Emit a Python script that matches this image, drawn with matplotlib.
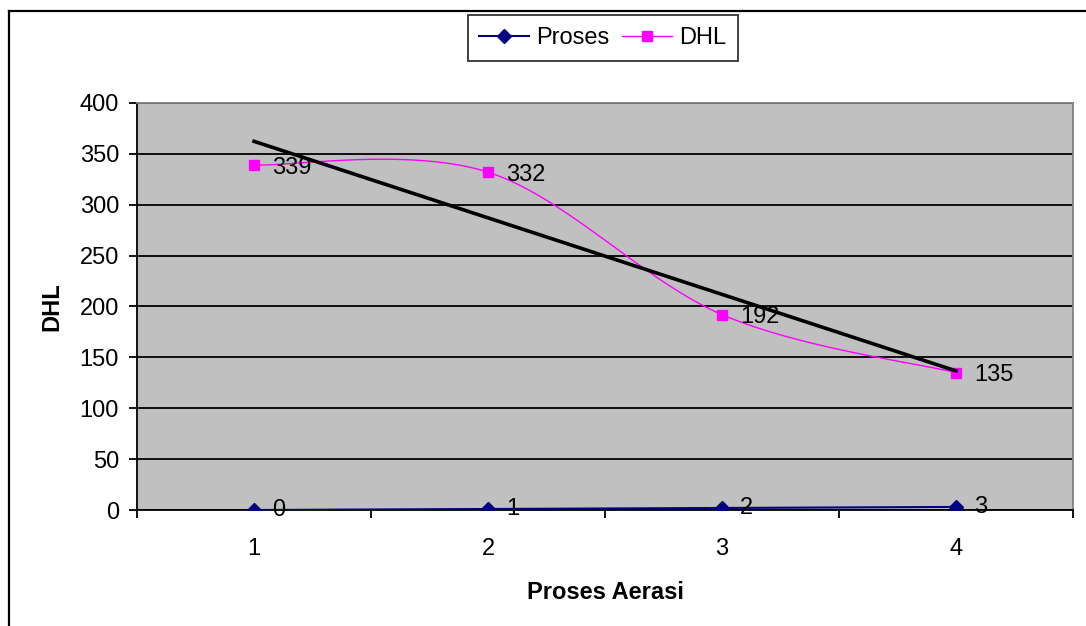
import numpy as np
import matplotlib
matplotlib.use("Agg")
import matplotlib.pyplot as plt
from matplotlib.lines import Line2D

# data
proses_aerasi = [1, 2, 3, 4]
proses = [0, 1, 2, 3]
dhl = [339, 332, 192, 135]
y_ticks = [0, 50, 100, 150, 200, 250, 300, 350, 400]


def smooth(xs, ys, n=40):
    # Excel style smoothed line (Catmull-Rom through the points)
    xs = np.asarray(xs, float)
    ys = np.asarray(ys, float)
    px = np.concatenate([[xs[0]], xs, [xs[-1]]])
    py = np.concatenate([[ys[0]], ys, [ys[-1]]])
    ox, oy = [], []
    for i in range(1, len(px) - 2):
        p0, p1, p2, p3 = [np.array([px[k], py[k]]) for k in (i - 1, i, i + 1, i + 2)]
        c1 = p1 + (p2 - p0) / 6
        c2 = p2 - (p3 - p1) / 6
        t = np.linspace(0, 1, n)[:, None]
        b = (1 - t) ** 3 * p1 + 3 * (1 - t) ** 2 * t * c1 + 3 * (1 - t) * t ** 2 * c2 + t ** 3 * p2
        ox.extend(b[:, 0])
        oy.extend(b[:, 1])
    return ox, oy


plt.rcParams['font.family'] = ['Liberation Sans', 'DejaVu Sans']
fs = 17

fig = plt.figure(figsize=(10.86, 6.26), dpi=100)
ax = fig.add_axes([0.1262, 0.1853, 0.8618, 0.6502])
ax.set_facecolor('#C0C0C0')

sx, sy = smooth(proses_aerasi, proses)
ax.plot(sx, sy, color='#000080', lw=1.5, zorder=3)
ax.plot(proses_aerasi, proses, ls='none', marker='D', ms=7.5, color='#000080', zorder=4)
sx, sy = smooth(proses_aerasi, dhl)
ax.plot(sx, sy, color='#FF00FF', lw=1, zorder=3)
ax.plot(proses_aerasi, dhl, ls='none', marker='s', ms=7.2, color='#FF00FF', zorder=4)

# linear trendline of DHL
k, b = np.polyfit(proses_aerasi, dhl, 1)
tx = np.array([proses_aerasi[0], proses_aerasi[-1]])
ax.plot(tx, k * tx + b, color='black', lw=2.6, zorder=5)

# legend handles
h1, = ax.plot([], [], color='#000080', lw=1.5, marker='D', ms=7.5, label='Proses')
h2, = ax.plot([], [], color='#FF00FF', lw=1, marker='s', ms=7.2, label='DHL')
leg = fig.legend(handles=[h1, h2], loc='upper center', bbox_to_anchor=(0.555, 0.976), ncol=2,
                 fontsize=fs, frameon=True, fancybox=False, handlelength=2.1, handletextpad=0.3,
                 columnspacing=0.55, borderpad=0.5, borderaxespad=0)
leg.get_frame().set_edgecolor('black')
leg.get_frame().set_linewidth(1.3)

for x, v in zip(proses_aerasi, proses):
    ax.annotate(str(v), (x, v), xytext=(13, 0), textcoords='offset points', va='center', ha='left', fontsize=fs, zorder=6)
for x, v in zip(proses_aerasi, dhl):
    ax.annotate(str(v), (x, v), xytext=(13, -2), textcoords='offset points', va='center', ha='left', fontsize=fs, zorder=6)

ax.set_xlim(0.5, 4.5)
ax.set_ylim(0, 400)
ax.set_yticks(y_ticks)
ax.yaxis.grid(True, color='black', lw=1.3)
ax.set_axisbelow(True)
ax.set_xticks(proses_aerasi)
ax.set_xticks(np.arange(0.5, 4.6, 1), minor=True)
ax.tick_params(axis='x', which='major', length=0, pad=20, labelsize=fs)
ax.tick_params(axis='x', which='minor', length=6, width=1.3, direction='out')
ax.tick_params(axis='y', length=6, width=1.3, pad=7, labelsize=fs)

for s in ['left', 'bottom']:
    ax.spines[s].set_color('black')
    ax.spines[s].set_linewidth(1.3)
for s in ['top', 'right']:
    ax.spines[s].set_color('#808080')
    ax.spines[s].set_linewidth(1.3)

ax.set_xlabel('Proses Aerasi', fontsize=fs, fontweight='bold', labelpad=15)
ax.set_ylabel('DHL', fontsize=fs, fontweight='bold', labelpad=12)

# chart frame: only the top and left edges are visible in the reference
fig.lines.append(Line2D([0.0087, 1.0], [0.983, 0.983], color='black', lw=1.6, transform=fig.transFigure, figure=fig))
fig.lines.append(Line2D([0.0087, 0.0087], [0.0, 0.983], color='black', lw=1.6, transform=fig.transFigure, figure=fig))

fig.savefig('out.png', dpi=100)
